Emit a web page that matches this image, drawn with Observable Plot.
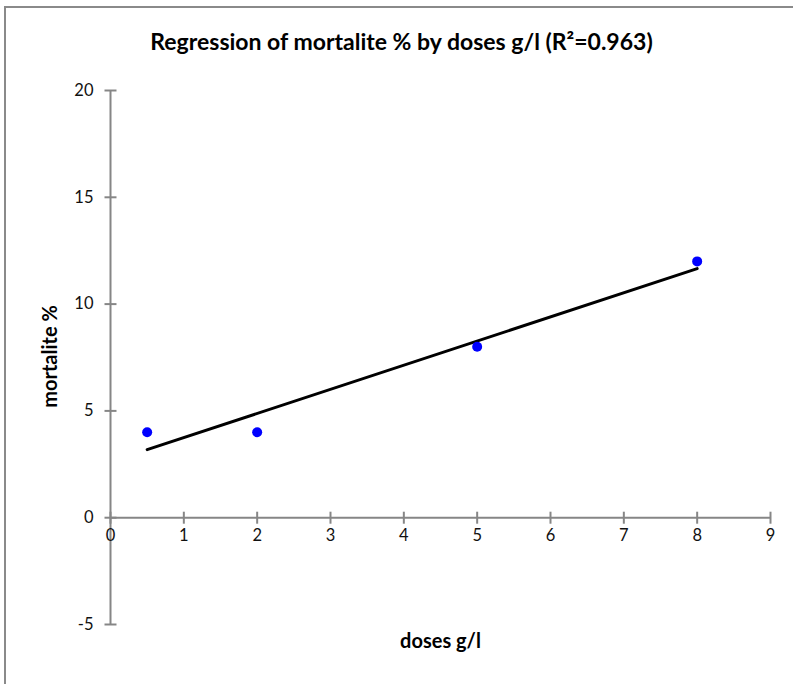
<!DOCTYPE html>
<html>
<head>
<meta charset="utf-8">
<script src="https://cdn.jsdelivr.net/npm/d3@7"></script>
<script src="https://cdn.jsdelivr.net/npm/@observablehq/plot@0.6"></script>
<style>
  html, body { margin: 0; padding: 0; background: #fff; }
  #wrap { position: relative; width: 793px; height: 684px; overflow: hidden; }
  #border { position: absolute; left: 4px; top: 6px; right: -10px; bottom: -10px;
            border-top: 2px solid #8a8a8a; border-left: 2px solid #8a8a8a; pointer-events: none; }
  #chart { position: absolute; left: 0; top: 0; }
</style>
</head>
<body>
<div id="wrap"><div id="chart"></div><div id="border"></div></div>
<script>
const titleText = "Regression of mortalite % by doses g/l (R\u00B2=0.963)";
const xLabel = "doses g/l";
const yLabel = "mortalite %";
const doses = [0.5, 2, 5, 8];
const mortalite = [4, 4, 8, 12];
const xTicks = [0, 1, 2, 3, 4, 5, 6, 7, 8, 9];
const yTicks = [-5, 0, 5, 10, 15, 20];

const data = doses.map((d, i) => ({dose: d, mort: mortalite[i]}));
const axisColor = "#868686";
const font = "Lato, 'Open Sans', sans-serif";

const vTick = { draw(ctx, size) { const r = Math.sqrt(size / Math.PI); ctx.moveTo(0, -r); ctx.lineTo(0, r); } };
const hTick = { draw(ctx, size) { const r = Math.sqrt(size / Math.PI); ctx.moveTo(-r, 0); ctx.lineTo(r, 0); } };

const chart = Plot.plot({
  width: 793,
  height: 684,
  marginLeft: 110,
  marginRight: 23,
  marginTop: 90,
  marginBottom: 60,
  style: { fontFamily: font, background: "transparent", overflow: "visible" },
  x: { domain: [0, 9], axis: null },
  y: { domain: [-5, 20], axis: null },
  marks: [
    Plot.ruleY([0], { x1: 0, x2: 9, stroke: axisColor, strokeWidth: 2 }),
    Plot.ruleX([0], { y1: -5, y2: 20, stroke: axisColor, strokeWidth: 2 }),
    Plot.dot(xTicks, { x: d => d, y: 0, symbol: vTick, r: 6, stroke: axisColor, strokeWidth: 2, fill: "none" }),
    Plot.dot(yTicks, { x: 0, y: d => d, symbol: hTick, r: 6, stroke: axisColor, strokeWidth: 2, fill: "none" }),
    Plot.text(xTicks, { x: d => d, y: 0, dy: 18, text: d => String(d), fontSize: 16.5, fill: "#111" }),
    Plot.text(yTicks, { x: 0, y: d => d, dx: -17, textAnchor: "end", text: d => String(d), fontSize: 16.5, fill: "#111" }),
    Plot.linearRegressionY(data, { x: "dose", y: "mort", ci: 0, stroke: "black", strokeWidth: 3 }),
    Plot.dot(data, { x: "dose", y: "mort", r: 5, fill: "#0000ff", stroke: "none" }),
    Plot.text([titleText], { frameAnchor: "top", lineAnchor: "middle", dx: -39, dy: -48, text: d => d, fontSize: 23, fontWeight: "bold", fill: "#000" }),
    Plot.text([xLabel], { frameAnchor: "bottom", lineAnchor: "middle", dy: 17, text: d => d, fontSize: 20, fontWeight: "bold", fill: "#000" }),
    Plot.text([yLabel], { frameAnchor: "left", textAnchor: "middle", lineAnchor: "middle", rotate: -90, dx: -60, dy: -1, text: d => d, fontSize: 20, fontWeight: "bold", fill: "#000" })
  ]
});
document.getElementById("chart").appendChild(chart);
</script>
</body>
</html>
